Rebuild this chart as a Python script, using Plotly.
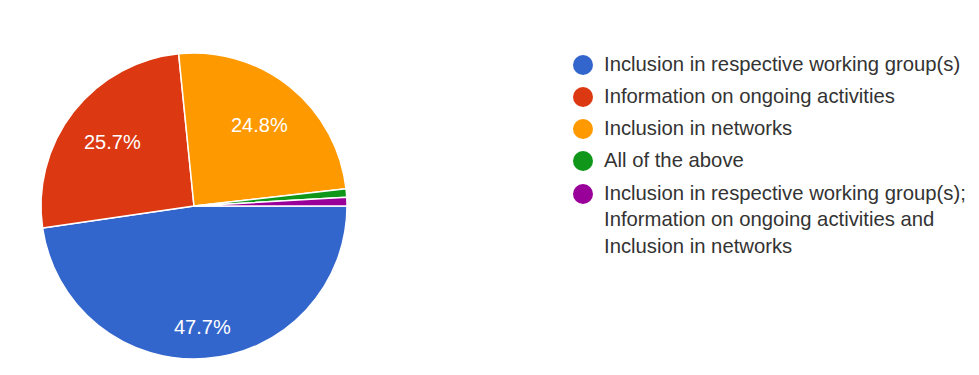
import math
import plotly.graph_objects as go

# Survey answer categories and their shares (%)
categories = [
    "Inclusion in respective working group(s)",
    "Information on ongoing activities",
    "Inclusion in networks",
    "All of the above",
    "Inclusion in respective working group(s);<br>Information on ongoing activities and<br>Inclusion in networks",
]
shares = [47.7, 25.7, 24.8, 0.9, 0.9]
colors = ["#3366cc", "#dc3912", "#ff9900", "#109618", "#990099"]

W, H = 979, 375
FONT = "Liberation Sans, Arial, sans-serif"

# pie placement in pixels (centre and radius)
cx, cy, r = 194, 206, 153
START_DEG = 0.0  # first slice starts at 3 o'clock, going clockwise

fig = go.Figure()
fig.add_trace(go.Pie(
    labels=[c.replace("<br>", " ") for c in categories],
    values=shares,
    textinfo="none",
    marker=dict(colors=colors, line=dict(color="white", width=1.5)),
    sort=False,
    direction="clockwise",
    rotation=90,
    showlegend=False,
    hoverinfo="label+percent",
    domain=dict(
        x=[(cx - r) / W, (cx + r) / W],
        y=[1 - (cy + r) / H, 1 - (cy - r) / H],
    ),
))

# percentage labels placed along each slice's bisector
label_radius = [0.79, 0.675, 0.68, 0, 0]
total = sum(shares)
acc = 0.0
for v, frac in zip(shares, label_radius):
    mid = START_DEG + (acc + v / 2) / total * 360
    acc += v
    if v < 5:
        continue
    px = cx + frac * r * math.cos(math.radians(mid))
    py = cy + frac * r * math.sin(math.radians(mid))
    fig.add_annotation(
        xref="paper", yref="paper", x=px / W, y=1 - py / H,
        xanchor="center", yanchor="middle", showarrow=False,
        text=f"{v:.1f}%",
        font=dict(family=FONT, size=20, color="white"),
    )

# legend drawn as circle markers plus text
row_y = [65, 97, 129, 161, 194]
mx, tx, rad = 583, 603, 10
for cat, col, y in zip(categories, colors, row_y):
    fig.add_shape(
        type="circle", xref="paper", yref="paper",
        x0=(mx - rad) / W, x1=(mx + rad) / W,
        y0=1 - (y + rad) / H, y1=1 - (y - rad) / H,
        fillcolor=col, line=dict(width=0),
    )
    fig.add_annotation(
        xref="paper", yref="paper",
        x=tx / W, y=1 - (y - 13) / H,
        xanchor="left", yanchor="top", align="left",
        text=cat, showarrow=False, borderpad=0,
        font=dict(family=FONT, size=20.3, color="#333333"),
    )

fig.update_layout(
    width=W, height=H,
    margin=dict(l=0, r=0, t=0, b=0),
    paper_bgcolor="white",
    plot_bgcolor="white",
)

fig.write_html("out.html")
